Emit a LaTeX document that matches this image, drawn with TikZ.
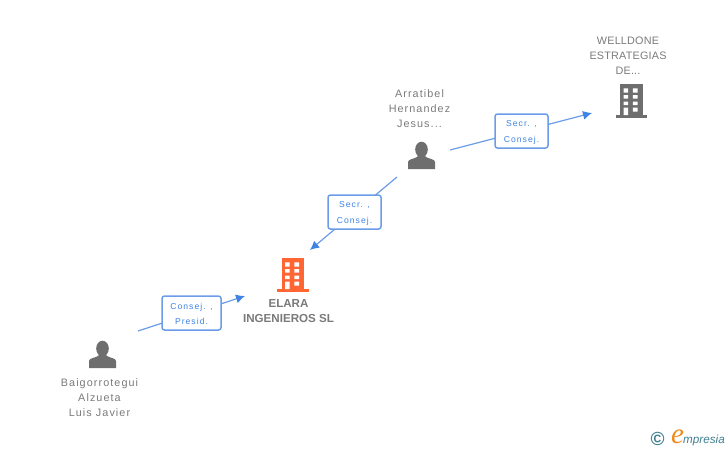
\documentclass[tikz,border=0pt]{standalone}
\usepackage{fontspec}
\setmainfont{Liberation Sans}
\newfontfamily\spaced[LetterSpace=10]{Liberation Sans}
\newfontfamily\capsfont[LetterSpace=2]{Liberation Sans}
\newfontfamily\lblfont[LetterSpace=12]{Liberation Sans}
\newfontfamily\logofont{Liberation Serif}
\usetikzlibrary{arrows.meta}
\definecolor{txtgrey}{HTML}{7A7A7A}
\definecolor{icongrey}{HTML}{6E6E6E}
\definecolor{iconorange}{HTML}{FF6633}
\definecolor{linkblue}{HTML}{3F84E5}
\definecolor{boxblue}{HTML}{6A9CE8}
\definecolor{logoteal}{HTML}{3F8090}
\definecolor{logoorange}{HTML}{F08A1D}
\tikzset{
  x=1pt,y=-1pt,
  link/.style={draw=boxblue,line width=1.2pt},
  arrowlink/.style={link,-{Latex[length=9pt,width=9pt,color=linkblue]}},
  rolebox/.style={draw=boxblue,line width=1.5pt,fill=white,rounded corners=2.5pt,minimum height=34pt,inner sep=0pt,align=center,
     text=linkblue,font=\lblfont\fontsize{8.6}{15.5}\selectfont},
  caption/.style={align=center,text=txtgrey,inner sep=0pt,font=\spaced\fontsize{10.8}{15}\selectfont},
  capscaption/.style={align=center,text=txtgrey,inner sep=0pt,font=\capsfont\fontsize{10.8}{15}\selectfont},
  maincaption/.style={align=center,text=txtgrey,inner sep=0pt,font=\bfseries\fontsize{11.6}{15}\selectfont},
  pics/building/.style={code={
    \fill[#1] (-11,-16.7) rectangle (11.5,14);
    \fill[#1] (-15.5,13.7) rectangle (16,16.7);
    \fill[white]
      (-7.5,-12.7) rectangle (-2.8,-8.3)  (1.8,-12.7) rectangle (6.5,-8.3)
      (-7.5,-6) rectangle (-2.8,-2.3)     (1.8,-6) rectangle (6.5,-2.3)
      (-7.5,0.7) rectangle (-2.8,4)       (1.8,0.7) rectangle (6.5,4)
      (-7.5,6.7) rectangle (-2.8,14.2)    (1.8,6.7) rectangle (6.5,10.7);
  }},
  pics/person/.style={code={
    \fill[icongrey] (0,-6) ellipse (6.3 and 7.8);
    \fill[icongrey] (-13.5,13.5) -- (-13.5,6.5) .. controls (-13.5,3.5) and (-7,3.5) .. (-3.8,1) -- (-3.8,-2)
       -- (3.8,-2) -- (3.8,1) .. controls (7,3.5) and (13.5,3.5) .. (13.5,6.5) -- (13.5,13.5) -- cycle;
  }}
}
\begin{document}
\begin{tikzpicture}
\useasboundingbox (0,0) rectangle (728,450);
% anchors
\coordinate (p1start) at (138,331);
\coordinate (elaraIn) at (245,296);
\coordinate (p2start) at (397,177);
\coordinate (elaraIn2) at (310,250);
\coordinate (p2out) at (450,150);
\coordinate (wellIn) at (592,113);
% connectors
\draw[arrowlink] (p1start) -- (elaraIn);
\draw[arrowlink] (p2start) -- (elaraIn2);
\draw[arrowlink] (p2out) -- (wellIn);
% role boxes
\node[rolebox,minimum width=59pt] (r1) at (191.5,313) {\rule{0pt}{8.5pt}Consej. ,\\Presid.};
\node[rolebox,minimum width=53pt] (r2) at (354.5,212) {\rule{0pt}{8.5pt}Secr. ,\\Consej.};
\node[rolebox,minimum width=53pt] (r3) at (521.5,131) {\rule{0pt}{8.5pt}Secr. ,\\Consej.};
% icons
\pic at (292.5,275) {building=iconorange};
\pic at (631,101) {building=icongrey};
\pic at (421.5,155.5) {person};
\pic at (102.5,354.5) {person};
% captions
\node[maincaption] (elara) at (288.5,311.5) {ELARA\\INGENIEROS SL};
\node[capscaption] (well) at (628,55.5) {WELLDONE\\ESTRATEGIAS\\DE...};
\node[caption] (jesus) at (419.5,108.5) {Arratibel\\Hernandez\\Jesus...};
\node[caption] (luis) at (99.5,397.5) {Baigorrotegui\\Alzueta\\Luis Javier};
% logo
\node[inner sep=0pt,text=logoteal,font=\bfseries\fontsize{19}{19}\selectfont] (copy) at (657.5,439) {©};
\node[inner sep=0pt,text=logoorange,font=\logofont\itshape\fontsize{29}{29}\selectfont] (loge) at (677.5,437) {e};
\node[inner sep=0pt,anchor=west,text=logoteal,font=\itshape\fontsize{11.7}{11.7}\selectfont] (logm) at (683,440) {mpresia};
\end{tikzpicture}
\end{document}
